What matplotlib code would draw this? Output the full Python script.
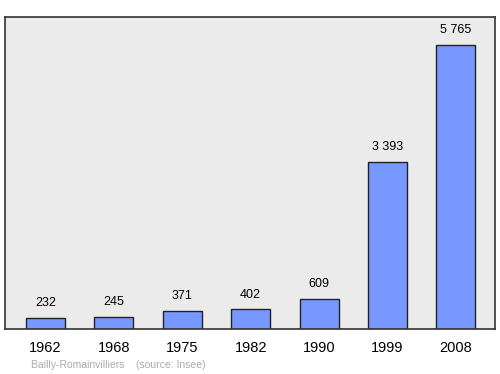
import matplotlib.pyplot as plt

years = ["1962", "1968", "1975", "1982", "1990", "1999", "2008"]
population = [232, 245, 371, 402, 609, 3393, 5765]
value_labels = ["232", "245", "371", "402", "609", "3 393", "5 765"]

plt.rcParams['font.family'] = ['Liberation Sans', 'DejaVu Sans']

fig = plt.figure(figsize=(5, 3.74), dpi=100)
ax = fig.add_axes([0.01, 0.1203, 0.98, 0.834])
ax.set_facecolor("#ebebeb")

x = range(len(years))
ax.bar(x, population, width=0.57, color="#7799ff", edgecolor="#222222", linewidth=1)

for i, v in enumerate(population):
    ax.annotate(value_labels[i], (i, v), xytext=(0, 10.5), textcoords="offset points",
                ha="center", va="center", fontsize=9)

ax.set_xlim(-0.59, 6.57)
ax.set_ylim(0, 6333)
ax.set_xticks(list(x))
ax.set_xticklabels(years, fontsize=10.5)
ax.tick_params(axis="x", length=0, pad=8.5)
ax.set_yticks([])
for s in ax.spines.values():
    s.set_color("#333333")
    s.set_linewidth(1.2)

fig.text(30.7 / 500, 1 - 365 / 374, "Bailly-Romainvilliers    (source: Insee)",
         fontsize=7.5, color="#aaaaaa", va="center", ha="left")

fig.savefig("out.png", dpi=100)
